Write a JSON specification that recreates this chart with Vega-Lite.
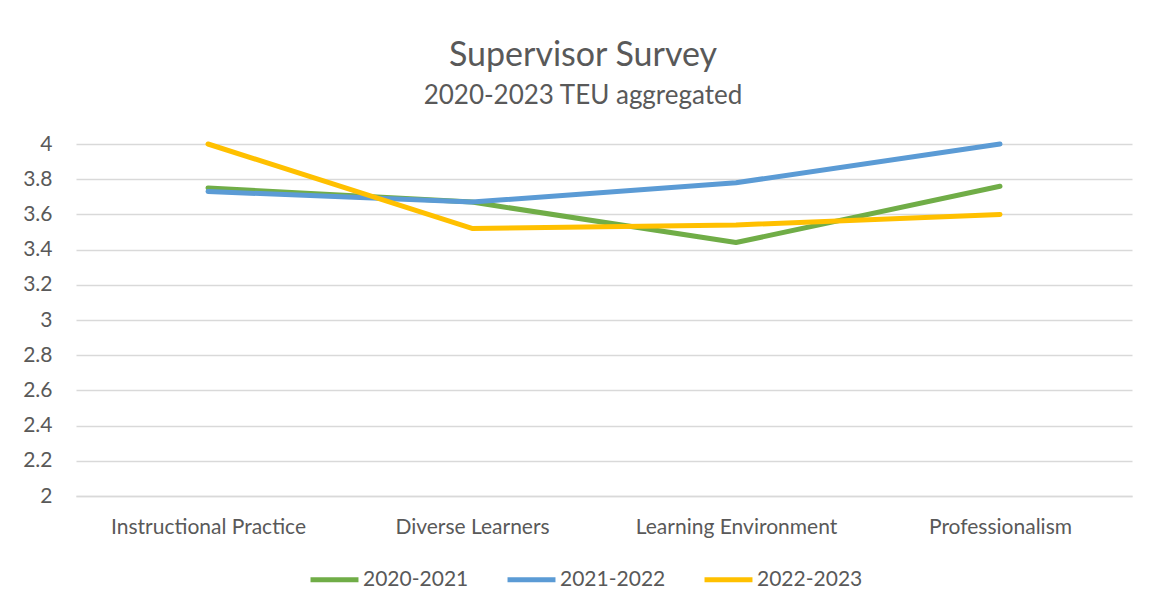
{
  "$schema": "https://vega.github.io/schema/vega-lite/v6.json",
  "autosize": "none",
  "width": 1056,
  "height": 352,
  "padding": {"left": 76, "top": 144, "right": 18, "bottom": 116},
  "background": "white",
  "title": {
    "text": "Supervisor Survey",
    "subtitle": "2020-2023 TEU aggregated",
    "anchor": "middle",
    "frame": "group",
    "dx": -21,
    "offset": 24,
    "font": "Lato",
    "fontSize": 34,
    "fontWeight": "normal",
    "color": "#595959",
    "subtitleFont": "Lato",
    "subtitleFontSize": 26,
    "subtitleColor": "#595959",
    "subtitlePadding": 10
  },
  "data": {
    "values": [
      {"category": "Instructional Practice", "year": "2020-2021", "score": 3.75},
      {"category": "Diverse Learners", "year": "2020-2021", "score": 3.67},
      {"category": "Learning Environment", "year": "2020-2021", "score": 3.44},
      {"category": "Professionalism", "year": "2020-2021", "score": 3.76},
      {"category": "Instructional Practice", "year": "2021-2022", "score": 3.73},
      {"category": "Diverse Learners", "year": "2021-2022", "score": 3.67},
      {"category": "Learning Environment", "year": "2021-2022", "score": 3.78},
      {"category": "Professionalism", "year": "2021-2022", "score": 4.0},
      {"category": "Instructional Practice", "year": "2022-2023", "score": 4.0},
      {"category": "Diverse Learners", "year": "2022-2023", "score": 3.52},
      {"category": "Learning Environment", "year": "2022-2023", "score": 3.54},
      {"category": "Professionalism", "year": "2022-2023", "score": 3.6}
    ]
  },
  "mark": {"type": "line", "strokeWidth": 5, "strokeCap": "round", "strokeJoin": "round"},
  "encoding": {
    "x": {
      "field": "category",
      "type": "nominal",
      "sort": ["Instructional Practice", "Diverse Learners", "Learning Environment", "Professionalism"],
      "scale": {"type": "point", "padding": 0.5},
      "axis": {
        "title": null,
        "labelAngle": 0,
        "labelLimit": 0,
        "labelFont": "Lato",
        "labelFontSize": 21,
        "labelColor": "#595959",
        "labelPadding": 20,
        "ticks": false,
        "domainColor": "#d9d9d9",
        "domainWidth": 1.5,
        "grid": false
      }
    },
    "y": {
      "field": "score",
      "type": "quantitative",
      "scale": {"domain": [2, 4], "nice": false, "zero": false},
      "axis": {
        "title": null,
        "values": [2, 2.2, 2.4, 2.6, 2.8, 3, 3.2, 3.4, 3.6, 3.8, 4],
        "format": "~g",
        "labelFont": "Lato",
        "labelFontSize": 21,
        "labelColor": "#595959",
        "labelPadding": 24,
        "ticks": false,
        "domain": false,
        "gridColor": "#d9d9d9",
        "gridWidth": 1.5
      }
    },
    "color": {
      "field": "year",
      "type": "nominal",
      "scale": {"domain": ["2020-2021", "2021-2022", "2022-2023"], "range": ["#70ad47", "#5b9bd5", "#ffc000"]},
      "legend": {
        "title": null,
        "orient": "none",
        "direction": "horizontal",
        "legendX": 232,
        "legendY": 409,
        "symbolType": "stroke",
        "symbolSize": 2300,
        "symbolStrokeWidth": 5,
        "labelFont": "Lato",
        "labelFontSize": 21,
        "labelColor": "#595959",
        "labelOffset": 2,
        "columnPadding": 28
      }
    }
  },
  "config": {"view": {"stroke": null}}
}
